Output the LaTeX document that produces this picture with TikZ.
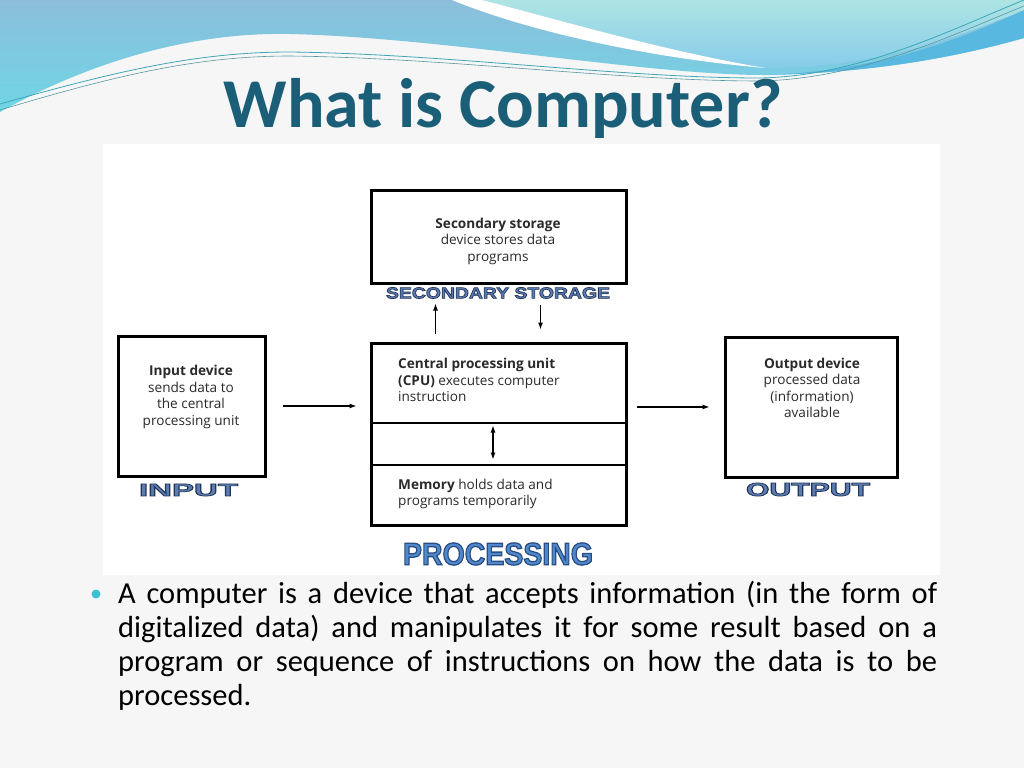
\documentclass[tikz,border=0pt]{standalone}
\usepackage{fontspec}
\usepackage{graphicx}
\usetikzlibrary{arrows.meta}
\setmainfont{Carlito}
\newfontfamily\boxfont{Open Sans}
\newfontfamily\artfont{Liberation Sans Bold}[FakeBold=4]

\definecolor{titleblue}{HTML}{1B5E78}
\definecolor{wavetop}{HTML}{8CBEDB}
\definecolor{wavebottom}{HTML}{6FD6E6}
\definecolor{aquatop}{HTML}{AEE4E3}
\definecolor{aquabottom}{HTML}{86CCEA}
\definecolor{waveband}{HTML}{58B8E0}
\definecolor{waveline}{HTML}{3FA6B6}
\definecolor{slidebg}{HTML}{F6F6F6}
\definecolor{boxtextcol}{HTML}{2A2A2A}
\definecolor{bulletcol}{HTML}{3CC0D8}
\definecolor{artfill}{HTML}{5B7DB0}
\definecolor{procfill}{HTML}{4F89CC}

% outlined word-art labels: fill colour, then stroke colour as rgb numbers
\def\artline{0.13 0.20 0.35}
\def\procline{0.16 0.30 0.51}
\newcommand\artlabel[5]{\resizebox{#1}{#2}{\fontsize{20}{20}\artfont\color{#3}\special{pdf:literal direct #4 RG}#5}}

\tikzstyle{box} = [draw, line width=3pt, inner sep=0pt]
\tikzstyle{boxtext} = [font=\fontsize{13.6}{16.5}\selectfont\boxfont, text=boxtextcol, align=center, inner sep=0pt]
\tikzstyle{arr} = [line width=1.1pt, -{Latex[length=7pt,width=5pt]}]
\def\gap{14pt}

\begin{document}
\begin{tikzpicture}[x=1pt,y=-1pt]
                \useasboundingbox (0,0) rectangle (1024,768);
                % slide background and header waves
                \fill[slidebg] (0,0) rectangle (1024,768);
                \shade[top color=wavetop, bottom color=wavebottom]
                    (0,0) -- (0,112) .. controls (90,62) and (190,32) .. (290,34)
                    .. controls (450,38) and (650,76) .. (770,75)
                    .. controls (880,72) and (960,56) .. (1024,38) -- (1024,0) -- cycle;
                \fill[waveband] (770,75) .. controls (880,70) and (960,40) .. (1024,10)
                    -- (1024,38) .. controls (960,56) and (880,72) .. (770,75) -- cycle;
                \shade[top color=aquatop, bottom color=aquabottom]
                    (482,0) .. controls (560,20) and (660,50) .. (765,68)
                    .. controls (880,68) and (960,36) .. (1024,10) -- (1024,0) -- cycle;
                \fill[white] (452,0) .. controls (530,32) and (650,58) .. (765,68)
                    .. controls (660,50) and (560,20) .. (482,0) -- cycle;
                \draw[waveline, line width=.8pt] (0,104) .. controls (120,70) and (200,52) .. (290,52)
                    .. controls (450,54) and (620,78) .. (760,78) .. controls (860,76) and (950,30) .. (1024,0);
                \draw[waveline!60!gray, line width=.6pt] (0,110) .. controls (120,74) and (200,56) .. (290,56)
                    .. controls (450,58) and (620,81) .. (760,81) .. controls (860,79) and (950,36) .. (1024,6);
                % title
                \node[font=\fontsize{70}{70}\selectfont\bfseries, text=titleblue] (title) at (503,108) {What is Computer?};
                % picture area
                \fill[white] (103,144) rectangle (940,575);
                % draw rectangle nodes
                \node[box, minimum width=255pt, minimum height=93pt] (secbox) at (498.5,236.5) {};
                \node[box, minimum width=255pt, minimum height=182pt] (cpubox) at (498.5,434) {};
                \node[box, minimum width=147pt, minimum height=140pt] (inbox) at (191.5,406) {};
                \node[box, minimum width=172pt, minimum height=140pt] (outbox) at (811,407) {};
                \draw[line width=2pt] ([yshift=-81pt]cpubox.north west) -- ([yshift=-81pt]cpubox.north east);
                \draw[line width=2pt] ([yshift=-123pt]cpubox.north west) -- ([yshift=-123pt]cpubox.north east);
                % box texts
                \node[boxtext] (sectext) at (498,241) {\textbf{Secondary storage}\\device stores data\\programs};
                \node[boxtext] (intext) at (191,397) {\textbf{Input device}\\sends data to\\the central\\processing unit};
                \node[boxtext] (outtext) at (812,388) {\textbf{Output device}\\processed data\\(information)\\available};
                \node[boxtext, align=left, anchor=west] (cputext) at (398,380) {\textbf{Central processing unit}\\\textbf{(CPU)} executes computer\\instruction};
                \node[boxtext, align=left, anchor=west] (memtext) at (398,494) {\textbf{Memory} holds data and\\programs temporarily};
                % word-art labels
                \node[inner sep=0pt] (seclabel) at (498,293) {\artlabel{224pt}{11pt}{artfill}{\artline}{SECONDARY STORAGE}};
                \node[inner sep=0pt] (inlabel) at (188.5,490) {\artlabel{99pt}{12pt}{artfill}{\artline}{INPUT}};
                \node[inner sep=0pt] (outlabel) at (808,489.5) {\artlabel{124pt}{13pt}{artfill}{\artline}{OUTPUT}};
                \node[inner sep=0pt] (proclabel) at (498,554) {\artlabel{190pt}{22pt}{procfill}{\procline}{PROCESSING}};
                % Draw edges
                \draw[arr] ([xshift=-63pt,yshift=8pt]cpubox.north) -- ([xshift=-63pt,yshift=-19pt]secbox.south);
                \draw[arr] ([xshift=42pt,yshift=-20pt]secbox.south) -- ([xshift=42pt,yshift=12pt]cpubox.north);
                \coordinate (cpuin) at (cpubox.west |- inbox.east);
                \coordinate (cpuout) at (cpubox.east |- outbox.west);
                \draw[arr] ([xshift=16pt]inbox.east) -- ([xshift=-13pt]cpuin);
                \draw[arr] ([xshift=9pt]cpuout) -- ([xshift=-\gap]outbox.west);
                \coordinate (memtop) at ([xshift=-5.5pt,yshift=-84pt]cpubox.north);
                \coordinate (membot) at ([xshift=-5.5pt,yshift=-118pt]cpubox.north);
                \draw[arr, {Latex[length=7pt,width=5pt]}-{Latex[length=7pt,width=5pt]}] (memtop) -- (membot);
                % bullet text
                \fill[bulletcol] (96,594) circle (4.5);
                \node[anchor=base west, inner sep=0pt, text width=819pt, align=justify,
                    font=\fontsize{30.5}{34}\selectfont] (bullet) at (118,603)
                    {A computer is a device that accepts information (in the form of\linebreak
                     digitalized data) and manipulates it for some result based on a\linebreak
                     program or sequence of instructions on how the data is to be\linebreak
                     processed.};
        \end{tikzpicture}
\end{document}
